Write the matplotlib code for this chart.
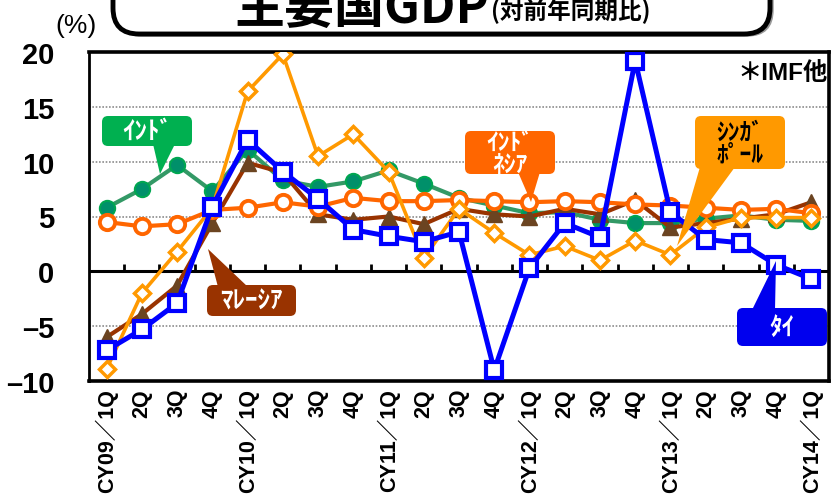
import matplotlib
matplotlib.use('Agg')
import matplotlib.pyplot as plt
import numpy as np
from matplotlib.patches import FancyBboxPatch, Polygon
from matplotlib import transforms

W, H = 831, 502

quarters = ["CY09／1Q", "2Q", "3Q", "4Q", "CY10／1Q", "2Q", "3Q", "4Q",
            "CY11／1Q", "2Q", "3Q", "4Q", "CY12／1Q", "2Q", "3Q", "4Q",
            "CY13／1Q", "2Q", "3Q", "4Q", "CY14／1Q"]
india = [5.8, 7.5, 9.7, 7.3, 11.1, 8.3, 7.7, 8.2, 9.2, 8.0, 6.7, 6.0,
         5.3, 5.4, 4.7, 4.4, 4.4, 4.8, 5.1, 4.7, 4.6]
malaysia = [-6.0, -3.9, -1.3, 4.4, 9.9, 9.0, 5.2, 4.7, 5.0, 4.3, 5.7, 5.2,
            5.0, 5.7, 5.2, 6.5, 4.0, 4.4, 4.8, 5.2, 6.3]
indonesia = [4.5, 4.1, 4.3, 5.6, 5.8, 6.3, 5.9, 6.7, 6.4, 6.4, 6.5, 6.4,
             6.3, 6.4, 6.3, 6.1, 6.0, 5.8, 5.6, 5.7, 5.3]
singapore = [-8.9, -2.0, 1.8, 5.8, 16.4, 19.8, 10.5, 12.5, 9.1, 1.2, 5.7, 3.5,
             1.5, 2.3, 1.0, 2.8, 1.5, 4.0, 4.9, 4.9, 4.9]
thailand = [-7.2, -5.3, -2.9, 5.9, 12.0, 9.1, 6.6, 3.8, 3.2, 2.7, 3.6, -9.0,
            0.3, 4.4, 3.1, 19.2, 5.4, 2.9, 2.6, 0.6, -0.7]
yticks = [-10, -5, 0, 5, 10, 15, 20]
ytick_labels = ["–10", "–5", "0", "5", "10", "15", "20"]
grid_levels = [-5, 5, 10, 15]

JP = ['Noto Sans CJK JP']
LAT = ['Liberation Sans', 'Noto Sans CJK JP']

fig = plt.figure(figsize=(W / 100, H / 100), dpi=100)
T = transforms.Affine2D().scale(1 / W, -1 / H).translate(0, 1) + fig.transFigure

ax = fig.add_axes([89 / W, 1 - 382 / H, (829 - 89) / W, (382 - 53) / H])
x = np.arange(len(quarters))
ax.set_xlim(-0.5, len(quarters) - 0.5)
ax.set_ylim(-10, 20)

for g in grid_levels:
    ax.axhline(g, color='#8c8c8c', lw=1.2, ls=(0, (1, 1)), zorder=0)
ax.axhline(0, color='black', lw=2.2, zorder=1)
ax.vlines(np.arange(0.5, len(quarters) - 1, 1), 0, 0.65, color='black', lw=2, zorder=1)

ax.plot(x, india, color='#339966', lw=3, marker='o', ms=11,
        mfc='#00906a', mec='#00a651', mew=1.5, zorder=2)
ax.plot(x, malaysia, color='#993300', lw=3, marker='^', ms=11,
        mfc='#6b4421', mec='#6b4421', zorder=3)
ax.plot(x, indonesia, color='#ff6600', lw=3, marker='o', ms=11,
        mfc='white', mec='#ff6600', mew=2.8, zorder=4)
ax.plot(x, singapore, color='#ff9900', lw=2.6, marker='D', ms=8,
        mfc='white', mec='#ff9900', mew=2.5, zorder=5)
ax.plot(x, thailand, color='#0000ff', lw=3.6, marker='s', ms=11.5,
        mfc='white', mec='#0000ff', mew=3, zorder=6)

ax.spines['left'].set_linewidth(2)
for s in ['top', 'bottom', 'right']:
    ax.spines[s].set_linewidth(2.6)

ax.set_xticks(x, quarters, rotation=90, fontsize=15.5, fontweight='bold', family=LAT)
ax.tick_params(axis='x', length=0, pad=5)
ax.set_yticks(yticks, ytick_labels, fontsize=21, fontweight='bold', family=LAT)
ax.tick_params(axis='y', length=0, pad=25)


def callout(box, base, tip, color, text, tcolor, fs, ls=1.0):
    x0, y0, x1, y1 = box
    tail = Polygon([base[0], base[1], tip], closed=True, transform=T,
                   facecolor=color, edgecolor='none', zorder=10)
    patch = FancyBboxPatch((x0, y0), x1 - x0, y1 - y0,
                           boxstyle='round,pad=0,rounding_size=6', transform=T,
                           facecolor=color, edgecolor='none', zorder=10)
    fig.add_artist(tail)
    fig.add_artist(patch)
    fig.text((x0 + x1) / 2, (y0 + y1) / 2, text, transform=T, ha='center', va='center',
             color=tcolor, fontsize=fs, fontweight='bold', family=JP,
             linespacing=ls, zorder=11)


callout((102, 117, 192, 147), ((153, 145), (175, 145)), (160, 175),
        '#00b050', 'ｲﾝﾄﾞ', 'white', 18)
callout((465, 132, 555, 175), ((518, 173), (540, 173)), (531, 203),
        '#ff6600', 'ｲﾝﾄﾞ\nﾈｼｱ', 'white', 17, 0.9)
callout((695, 117, 785, 170), ((700, 168), (735, 168)), (677, 247),
        '#ff9900', 'ｼﾝｶﾞ\nﾎﾟｰﾙ', 'black', 17, 0.9)
callout((207, 286, 296, 317), ((218, 288), (248, 288)), (208, 250),
        '#993300', 'ﾏﾚｰｼｱ', 'white', 18)
callout((737, 309, 827, 347), ((752, 311), (775, 311)), (776, 262),
        '#0000ee', 'ﾀｲ', 'white', 18)

# title box
shadow = FancyBboxPatch((116, -60), 770 - 113, 60 + 37,
                        boxstyle='round,pad=0,rounding_size=26', transform=T,
                        facecolor='#9a9a9a', edgecolor='#9a9a9a', lw=1, zorder=8)
tbox = FancyBboxPatch((113, -60), 770 - 113, 60 + 35,
                      boxstyle='round,pad=0,rounding_size=26', transform=T,
                      facecolor='white', edgecolor='black', lw=3.5, zorder=9)
fig.add_artist(shadow)
fig.add_artist(tbox)
fig.text(489, 23, '主要国GDP', transform=T, ha='right', va='baseline',
         fontsize=36, fontweight='bold', family=JP, zorder=12)
fig.text(491, 19, '(対前年同期比)', transform=T, ha='left', va='baseline',
         fontsize=17, fontweight='bold', family=JP, zorder=12)

fig.text(76, 26, '(%)', transform=T, ha='center', va='center',
         fontsize=19, family=LAT)
fig.text(828, 73, '＊IMF他', transform=T, ha='right', va='center',
         fontsize=17.5, fontweight='bold', family=LAT, zorder=12)

fig.savefig('out.png', dpi=100)
